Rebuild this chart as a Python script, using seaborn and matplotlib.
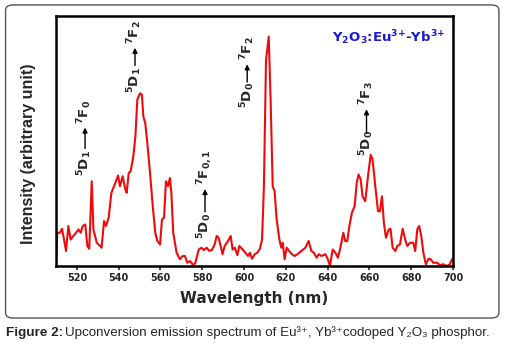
import matplotlib
matplotlib.use('Agg')
import matplotlib.pyplot as plt
from matplotlib.patches import FancyBboxPatch
import pandas as pd
import seaborn as sns

# spectrum
wavelength = [510.0, 510.6, 511.9, 512.9, 514.8, 515.9, 517.0, 518.3, 520.8, 521.8,
              522.8, 524.0, 525.0, 525.9, 527.1, 527.9, 529.5, 531.1, 531.8, 533.0,
              533.9, 535.2, 536.5, 538.1, 539.7, 540.6, 541.9, 543.2, 543.8, 544.8,
              545.7, 547.0, 548.0, 548.9, 550.2, 551.1, 551.8, 552.7, 553.7, 555.0,
              556.3, 557.5, 558.5, 559.8, 560.7, 561.7, 562.6, 563.6, 564.5, 565.2,
              566.1, 567.7, 569.3, 570.6, 571.7, 572.8, 574.1, 575.7, 576.7, 578.3,
              579.5, 580.8, 582.1, 583.4, 584.6, 585.9, 586.9, 587.8, 588.8, 589.7,
              590.7, 592.0, 593.6, 594.5, 595.6, 596.8, 597.7, 599.0, 600.6, 601.9,
              602.8, 603.8, 605.1, 606.3, 607.6, 608.6, 609.5, 610.5, 611.8, 612.7,
              613.7, 614.6, 615.6, 616.9, 617.8, 618.5, 619.4, 620.4, 621.6, 622.9,
              624.2, 625.5, 627.4, 629.3, 630.9, 632.2, 633.4, 634.7, 635.7, 637.0,
              638.9, 640.1, 641.1, 642.4, 643.7, 644.9, 645.9, 647.5, 648.4, 649.4,
              650.4, 651.6, 652.9, 653.9, 654.8, 655.8, 656.7, 658.0, 659.3, 660.6,
              661.5, 662.8, 664.1, 665.0, 666.0, 666.9, 667.9, 669.2, 670.1, 671.1,
              672.4, 673.3, 674.6, 675.9, 677.1, 678.1, 679.4, 681.0, 681.9, 682.9,
              683.8, 684.8, 685.8, 687.0, 688.3, 689.3, 690.5, 692.5, 693.7, 695.3,
              696.9, 698.5, 699.5, 700.0]
intensity = [0.0, 13.3, 13.3, 14.9, 6.0, 16.0, 10.6, 12.0, 14.6, 13.3,
             16.0, 16.6, 8.0, 6.9, 33.9, 14.6, 9.3, 8.0, 7.3, 18.0,
             16.0, 19.3, 29.3, 32.6, 36.2, 31.9, 35.9, 30.6, 29.3, 37.2,
             37.9, 43.9, 51.9, 66.5, 69.1, 68.5, 59.8, 57.2, 49.2, 37.2,
             23.9, 13.3, 10.0, 8.6, 18.6, 19.3, 33.9, 31.9, 35.2, 29.3,
             13.3, 5.3, 2.7, 4.0, 4.0, 1.3, 2.0, 0.3, 1.3, 6.6,
             7.3, 6.4, 7.3, 6.0, 6.4, 8.6, 12.0, 11.3, 8.0, 4.7,
             8.0, 9.6, 12.0, 6.6, 7.3, 4.3, 8.0, 6.9, 5.3, 4.0,
             5.3, 2.9, 4.7, 5.3, 6.9, 10.6, 31.9, 82.4, 91.8, 66.5,
             31.9, 29.9, 18.6, 10.6, 7.3, 9.3, 2.7, 7.3, 6.0, 4.7,
             4.0, 4.7, 6.0, 7.3, 10.0, 6.0, 5.3, 3.3, 4.7, 4.0,
             4.7, 2.7, 0.0, 6.6, 5.3, 3.3, 6.6, 13.3, 10.0, 10.0,
             16.0, 21.3, 23.9, 33.2, 36.6, 34.6, 27.9, 25.9, 35.9, 44.5,
             42.6, 31.9, 21.9, 21.9, 27.9, 17.3, 11.3, 14.6, 14.9, 7.3,
             6.0, 8.0, 8.6, 14.9, 10.6, 8.0, 9.3, 9.3, 6.0, 14.6,
             16.0, 12.0, 5.3, 0.7, 2.9, 2.7, 1.3, 1.3, 0.3, 0.7,
             0.0, 0.7, 2.7, 2.9]

xticks = [520, 540, 560, 580, 600, 620, 640, 660, 680, 700]

# transition labels: (x, lower label, upper label)
trans_x = [523.9, 547.8, 581.3, 601.5, 658.6]
trans_lower = ['$^\\mathbf{5}$D$_\\mathbf{1}$', '$^\\mathbf{5}$D$_\\mathbf{1}$',
               '$^\\mathbf{5}$D$_\\mathbf{0}$', '$^\\mathbf{5}$D$_\\mathbf{0}$',
               '$^\\mathbf{5}$D$_\\mathbf{0}$']
trans_upper = ['$^\\mathbf{7}$F$_\\mathbf{0}$', '$^\\mathbf{7}$F$_\\mathbf{2}$',
               '$^\\mathbf{7}$F$_\\mathbf{0,1}$', '$^\\mathbf{7}$F$_\\mathbf{2}$',
               '$^\\mathbf{7}$F$_\\mathbf{3}$']
trans_y = [(35.9, 45.9, 56.5, 57.0), (69.1, 79.1, 88.4, 89.0), (10.6, 20.6, 31.9, 32.4),
           (63.2, 72.5, 81.8, 82.3), (43.9, 51.9, 63.8, 64.3)]

sns.set_style('ticks')
plt.rcParams['font.family'] = ['DejaVu Sans']
fam = ['Liberation Sans', 'DejaVu Sans']

df = pd.DataFrame({'Wavelength (nm)': wavelength, 'Intensity': intensity})

fig = plt.figure(figsize=(5.06, 3.53), dpi=100)
ax = fig.add_axes([0.1107, 0.2465, 0.7846, 0.708])

frame = FancyBboxPatch((0.011, 0.099), 0.975, 0.887, boxstyle='round,pad=0,rounding_size=0.015',
                       transform=fig.transFigure, fill=False, edgecolor='#555555', lw=1.0)
fig.patches.append(frame)

sns.lineplot(data=df, x='Wavelength (nm)', y='Intensity', ax=ax, color='#ee0a0a', lw=1.5)

ax.set_xlim(510, 700)
ax.set_ylim(0, 100)
ax.set_xticks(xticks)
ax.set_yticks([])
ax.tick_params(axis='x', labelsize=7, length=3, width=1.2, pad=2)
for lab in ax.get_xticklabels():
    lab.set_fontweight('bold')
for sp in ax.spines.values():
    sp.set_linewidth(1.8)
    sp.set_color('black')
ax.set_xlabel('Wavelength (nm)', fontsize=11, fontweight='bold', labelpad=6)
ax.set_ylabel('Intensity (arbitrary unit)', fontsize=11.5, fontweight='bold', family=fam)
ax.yaxis.set_label_coords(-0.05, 0.45)

ax.text(0.98, 0.95, 'Y$_\\mathbf{2}$O$_\\mathbf{3}$:Eu$^\\mathbf{3{+}}$-Yb$^\\mathbf{3{+}}$',
        transform=ax.transAxes, ha='right', va='top', color='#1a1ad0',
        fontsize=9.5, fontweight='bold')

for x, lo, up, (y0, y1, y2, y3) in zip(trans_x, trans_lower, trans_upper, trans_y):
    ax.text(x, y0, lo, rotation=90, ha='center', va='bottom', fontsize=9.5, fontweight='bold')
    ax.annotate('', xy=(x, y2), xytext=(x, y1),
                arrowprops=dict(arrowstyle='-|>', color='black', lw=1.0, mutation_scale=7))
    ax.text(x, y3, up, rotation=90, ha='center', va='bottom', fontsize=9.5, fontweight='bold')

t1 = fig.text(0.012, 0.057, 'Figure 2:', fontsize=9.7, fontweight='bold', family=fam, va='center')
fig.canvas.draw()
bb = t1.get_window_extent().transformed(fig.transFigure.inverted())
fig.text(bb.x1 + 0.003, 0.057, 'Upconversion emission spectrum of Eu³⁺, Yb³⁺codoped Y₂O₃ phosphor.',
         fontsize=9.6, family=fam, va='center')

fig.savefig('out.png', dpi=100)
